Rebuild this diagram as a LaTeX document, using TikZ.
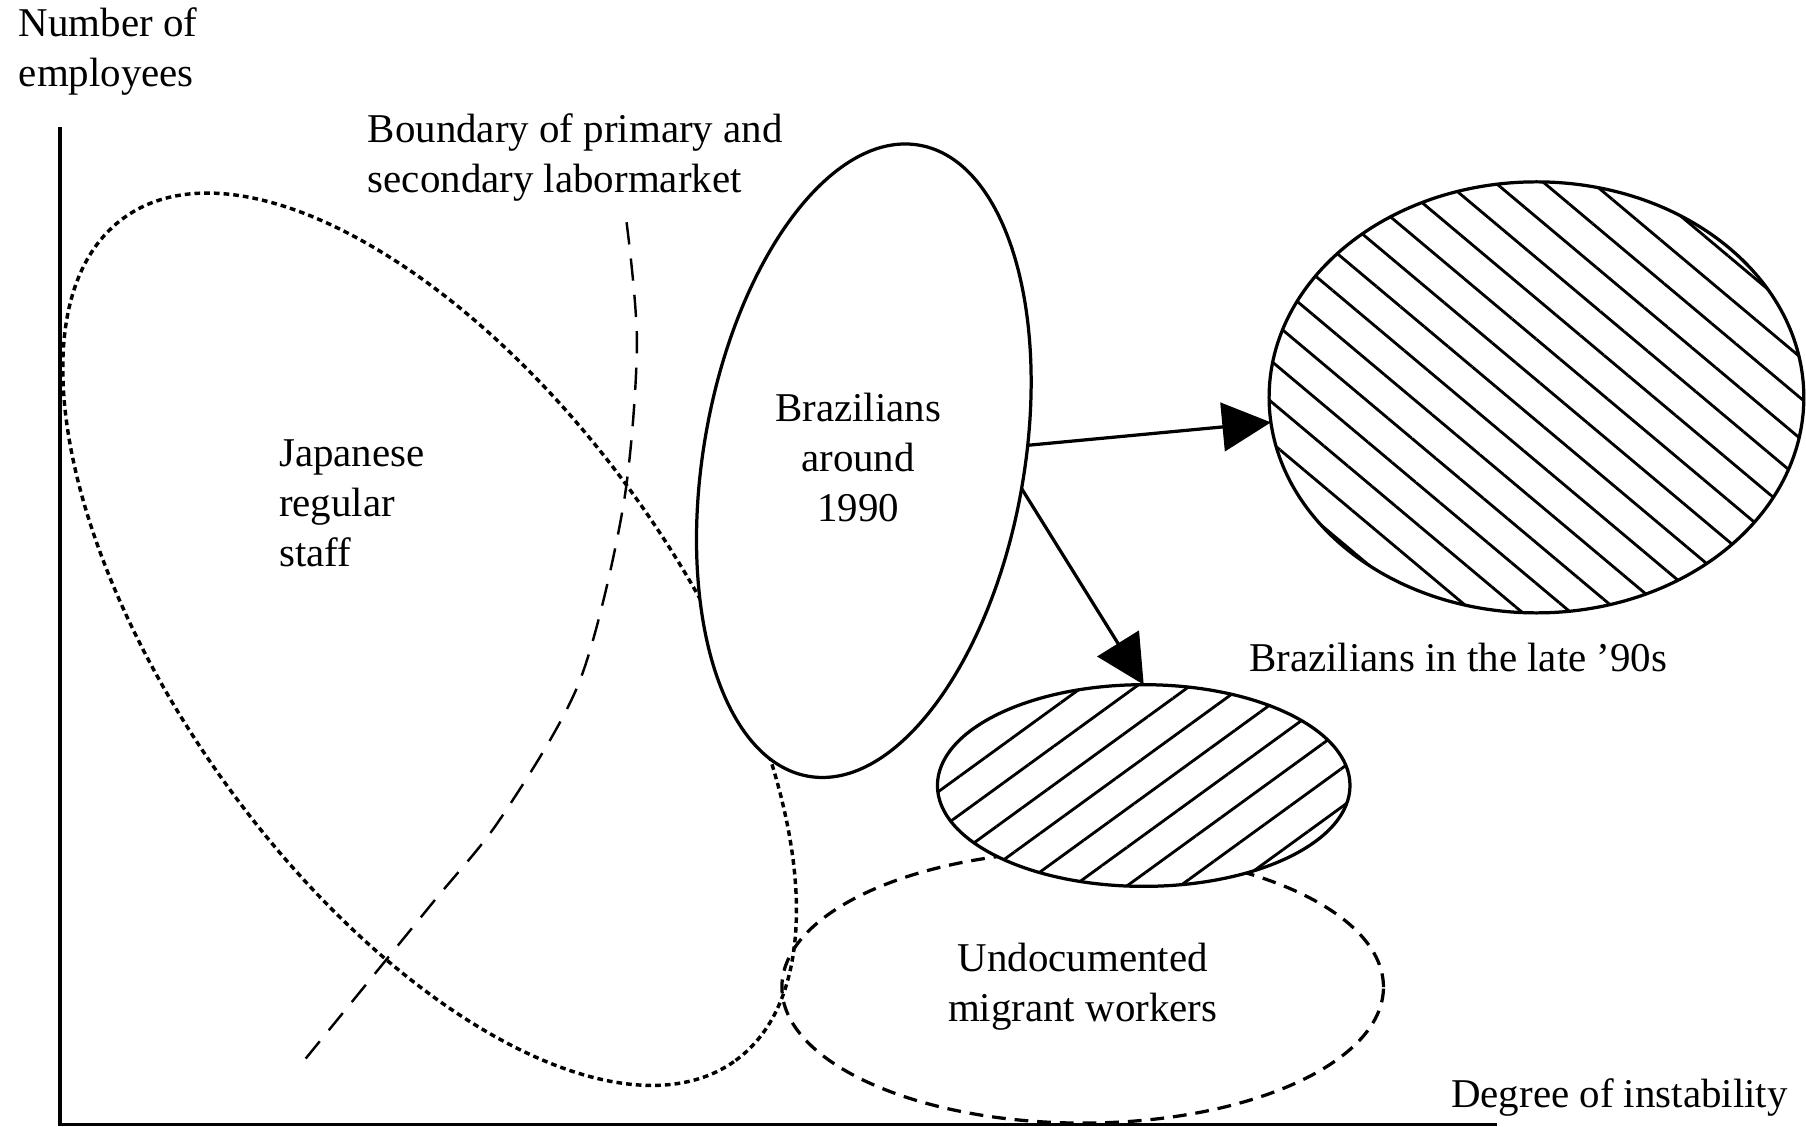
\documentclass[tikz,border=0pt]{standalone}
\usepackage{fontspec}
\setmainfont{Liberation Serif}
\usetikzlibrary{shapes.geometric,arrows.meta,patterns.meta}

\begin{document}
\begin{tikzpicture}[x=0.01cm, y=0.01cm, line width=0.8pt,
  jdots/.style={line width=0.85pt, dash pattern=on 1.4pt off 1pt},
  bdash/.style={line width=0.6pt, dash pattern=on 5.5pt off 3.5pt},
  udash/.style={dash pattern=on 3.4pt off 2.2pt},
  blob/.style={ellipse, draw, inner sep=0pt, outer sep=0pt},
  hatch/.style={preaction={fill=white}, pattern={Lines[angle=#1, distance=7.7pt, line width=0.7pt]}},
  arr/.style={-{Triangle[length=12pt, width=12pt]}, line width=0.8pt}]
\tikzstyle{every node}+=[inner sep=0pt, font=\fontsize{10.1}{12.4}\selectfont]
\useasboundingbox (0,0) rectangle (1568,-978);
% axes
\draw (52,-110) -- (52,-976) -- (1300,-976);
% japanese regular staff
\draw [jdots, rotate around={-54:(373,-555)}] (373,-555) ellipse (452 and 217);
% boundary of the two markets
\draw [bdash] plot [smooth] coordinates {(544,-193) (553,-300) (541,-440) (503,-592) (435,-710) (373,-787) (263,-922)};
% groups
\node (b90) [blob, fill=white, rotate=-10, minimum width=2.78cm, minimum height=5.56cm] at (750,-400) {};
\node (undoc) [blob, udash, minimum width=5.22cm, minimum height=2.36cm, align=center] at (940,-857) {Undocumented\\migrant workers};
\node (small) [blob, hatch=36, minimum width=3.58cm, minimum height=1.75cm] at (993,-682) {};
\node (late) [blob, hatch=-40, minimum width=4.64cm, minimum height=3.74cm] at (1334,-345) {};
\draw [arr] (b90) -- (late);
\draw [arr] (b90.east) -- (small.north);
% labels
\node (ylab) [align=left] at (15,-45) [anchor=west] {Number of\\employees};
\node (blab) [align=left] at (318,-137) [anchor=west] {Boundary of primary and\\secondary labormarket};
\node (jlab) [align=left] at (241,-437) [anchor=west] {Japanese\\regular\\staff};
\node (b90lab) [align=center] at (745,-397) {Brazilians\\around\\1990};
\node (latelab) at (1266,-571) {Brazilians in the late ’90s};
\node (xlab) at (1406,-953) {Degree of instability};
\end{tikzpicture}
\end{document}
